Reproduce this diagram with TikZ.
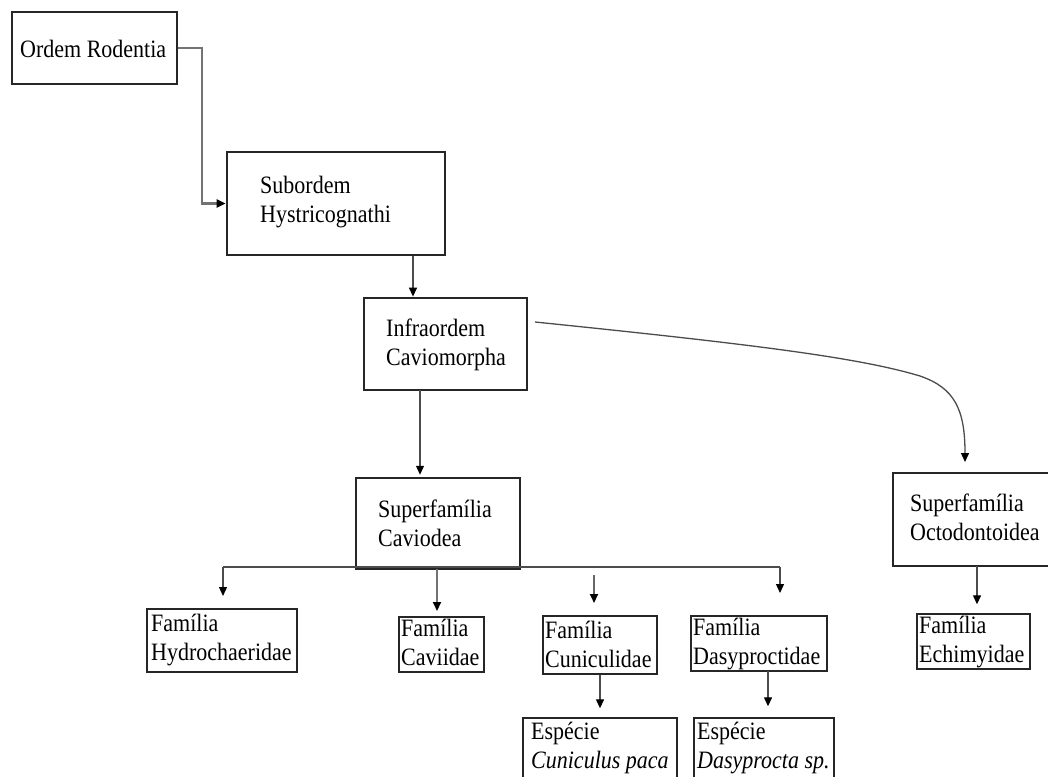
\documentclass[tikz,border=0pt]{standalone}
\usepackage{fontspec}
\setmainfont{Liberation Serif}[FakeStretch=0.88]
\usetikzlibrary{arrows.meta}

\begin{document}
\begin{tikzpicture}[
  x=1pt, y=-1pt,
  font=\fontsize{25}{29}\selectfont,
  caixa/.style={draw=black!85, line width=2.8pt, inner sep=0pt},
  caixafina/.style={draw=black!85, line width=1.4pt, inner sep=0pt},
  texto/.style={inner sep=0pt, align=left, anchor=base west},
  liga/.style={draw=black!70, line width=1.3pt},
  seta/.style={liga, -{Triangle[width=8pt, length=9pt, color=black]}}
]

%--------------------------------------------------------------
% Area visivel
%--------------------------------------------------------------
\clip (0,0) rectangle (1048,776);

%--------------------------------------------------------------
% Ordem, subordem e infraordem
% (texto em duas linhas: ancorado na linha de base da segunda)
%--------------------------------------------------------------
\node[caixa, line width=2.4pt, minimum width=165pt, minimum height=72pt] (ordem) at (94.5,48) {};
\node[texto] (t-ordem) at (20,57) {Ordem Rodentia};

\node[caixa, minimum width=218pt, minimum height=103pt] (sub) at (336,203.5) {};
\node[texto] (t-sub) at (260,222) {Subordem\\Hystricognathi};

\node[caixa, minimum width=163pt, minimum height=92pt] (infra) at (445.5,344) {};
\node[texto] (t-infra) at (386,365) {Infraordem\\Caviomorpha};

%--------------------------------------------------------------
% Superfamilias
%--------------------------------------------------------------
\node[caixa, line width=2.5pt, minimum width=164pt, minimum height=91pt] (cav) at (438,523.5) {};
\node[texto] (t-cav) at (378,546) {Superfamília\\Caviodea};

\node[caixa, minimum width=159pt, minimum height=93pt] (oct) at (972.5,519.5) {};
\node[texto] (t-oct) at (910,540) {Superfamília\\Octodontoidea};

%--------------------------------------------------------------
% Familias
%--------------------------------------------------------------
\node[caixa, line width=2.2pt, minimum width=150pt, minimum height=63pt] (hyd) at (222,640.5) {};
\node[texto] (t-hyd) at (151,660) {Família\\Hydrochaeridae};

\node[caixafina, minimum width=85pt, minimum height=55pt] (cavi) at (441.5,644.5) {};
\node[texto] (t-cavi) at (401,665) {Família\\Caviidae};

\node[caixafina, minimum width=114pt, minimum height=58pt] (cun) at (600,645) {};
\node[texto] (t-cun) at (545,667) {Família\\Cuniculidae};

\node[caixafina, minimum width=136pt, minimum height=55pt] (das) at (759,643.5) {};
\node[texto] (t-das) at (693,664) {Família\\Dasyproctidae};

\node[caixafina, minimum width=113pt, minimum height=55pt] (ech) at (973.5,641.5) {};
\node[texto] (t-ech) at (919,662) {Família\\Echimyidae};

%--------------------------------------------------------------
% Especies
%--------------------------------------------------------------
\node[caixafina, minimum width=154pt, minimum height=82pt] (ecun) at (600,759) {};
\node[texto] (t-ecun) at (531,768) {Espécie\\\textit{Cuniculus paca}};

\node[caixafina, minimum width=140pt, minimum height=82pt] (edas) at (764,759) {};
\node[texto] (t-edas) at (697,768) {Espécie\\\textit{Dasyprocta sp.}};

%--------------------------------------------------------------
% Ligacoes
%--------------------------------------------------------------
\draw[seta, draw=black!55, line width=2.2pt] (ordem.east) -- ++(24,0) |- (sub.west);

\coordinate (s-sub) at (413,256);
\draw[seta] (s-sub) -- (s-sub |- infra.north);

\coordinate (s-infra) at (420,390);
\draw[seta, shorten >=2pt] (s-infra) -- (s-infra |- cav.north);

% curva ate Octodontoidea
\coordinate (c-ini) at (535,322);
\coordinate (c-meio) at (920,376);
\coordinate (c-fim) at (965,462);
\draw[seta] (c-ini) .. controls (760,345) and (860,358) .. (c-meio)
  .. controls (955,388) and (965,410) .. (c-fim);

% barramento sob Caviodea
\coordinate (b-esq) at (223,567);
\coordinate (b-dir) at (780,567);
\draw[liga] (b-esq) -- (b-dir);
\coordinate (p-hyd) at (223,596);
\draw[seta] (b-esq) -- (p-hyd);
\coordinate (s-cav) at (437,569);
\coordinate (p-cavi) at (437,611);
\draw[seta, draw=black!55, line width=2pt] (s-cav) -- (p-cavi);
\coordinate (s-cun) at (594,575);
\coordinate (p-cun) at (594,603);
\draw[seta, draw=black!60, line width=2pt] (s-cun) -- (p-cun);
\coordinate (p-das) at (780,593);
\draw[seta] (b-dir) -- (p-das);

\draw[seta, shorten >=9pt] (cun.south) -- (ecun.north);
\coordinate (s-das) at (768,671);
\draw[seta, shorten >=11pt] (s-das) -- (s-das |- edas.north);
\coordinate (s-oct) at (977,566);
\draw[seta, shorten >=9pt] (s-oct) -- (s-oct |- ech.north);

\end{tikzpicture}
\end{document}
